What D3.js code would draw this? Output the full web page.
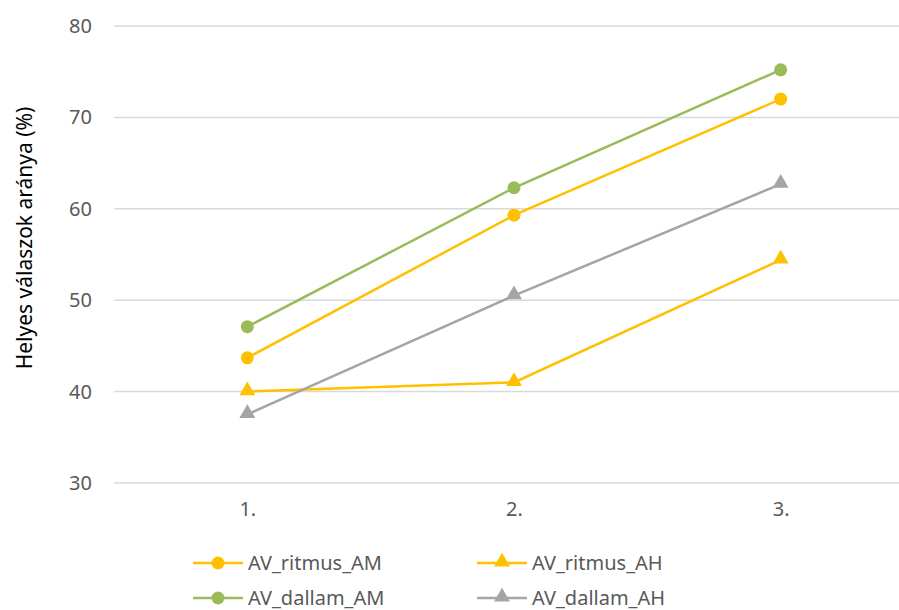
<!DOCTYPE html>
<html>
<head>
<meta charset="utf-8">
<script src="https://cdn.jsdelivr.net/npm/d3@7"></script>
<style>
  body { margin: 0; background: #fff; }
  text { font-family: "Noto Sans", "Open Sans", sans-serif; }
</style>
</head>
<body>
<div id="chart"></div>
<script>
// data
const categories = ['1.', '2.', '3.'];
const ritmusAM = [43.7, 59.3, 72.0];
const ritmusAH = [40.0, 41.0, 54.4];
const dallamAM = [47.1, 62.3, 75.2];
const dallamAH = [37.5, 50.5, 62.7];
const yTicks = [30, 40, 50, 60, 70, 80];
const yTitle = 'Helyes válaszok aránya (%)';

const series = [
  { name: 'AV_ritmus_AM', values: ritmusAM, color: '#FFC000', marker: 'circle' },
  { name: 'AV_ritmus_AH', values: ritmusAH, color: '#FFC000', marker: 'triangle' },
  { name: 'AV_dallam_AM', values: dallamAM, color: '#9BBB59', marker: 'circle' },
  { name: 'AV_dallam_AH', values: dallamAH, color: '#A5A5A5', marker: 'triangle' }
];

const w = 899, h = 610;
const svg = d3.select('#chart').append('svg')
  .attr('width', w).attr('height', h);

// scales
const xScale = d3.scalePoint()
  .domain(categories)
  .range([114, 914])
  .padding(0.5);
const yScale = d3.scaleLinear()
  .domain([30, 80])
  .range([483, 26]);

// gridlines
svg.append('g')
  .selectAll('line')
  .data(yTicks)
  .enter()
  .append('line')
  .attr('x1', 114).attr('x2', 914)
  .attr('y1', d => yScale(d)).attr('y2', d => yScale(d))
  .attr('stroke', '#d9d9d9')
  .attr('stroke-width', 1.5);

// y axis labels
const yAxis = d3.axisLeft(yScale).tickValues(yTicks).tickSize(0).tickPadding(0);
svg.append('g')
  .attr('transform', 'translate(92,0)')
  .call(yAxis)
  .call(g => g.select('.domain').remove())
  .selectAll('text')
  .attr('font-size', 20)
  .attr('font-family', '"Noto Sans", sans-serif')
  .attr('fill', '#595959');

// x axis labels
const xAxis = d3.axisBottom(xScale).tickSize(0).tickPadding(0);
svg.append('g')
  .attr('transform', 'translate(0,502)')
  .call(xAxis)
  .call(g => g.select('.domain').remove())
  .selectAll('text')
  .attr('font-size', 20)
  .attr('font-family', '"Noto Sans", sans-serif')
  .attr('fill', '#595959');

// y title
svg.append('text')
  .attr('transform', 'translate(32,238) rotate(-90)')
  .attr('text-anchor', 'middle')
  .attr('font-size', 21)
  .attr('fill', '#000')
  .text(yTitle);

const line = d3.line()
  .x((d, i) => xScale(categories[i]))
  .y(d => yScale(d));

const triangle = d3.symbol().type(d3.symbolTriangle).size(110);

function drawMarker(g, type, color, x, y) {
  if (type === 'circle') {
    g.append('circle').attr('cx', x).attr('cy', y).attr('r', 6.5).attr('fill', color);
  } else {
    g.append('path').attr('d', triangle())
      .attr('transform', 'translate(' + x + ',' + (y - 1) + ')')
      .attr('fill', color);
  }
}

// lines + markers
series.forEach(s => {
  const g = svg.append('g');
  g.append('path')
    .attr('d', line(s.values))
    .attr('fill', 'none')
    .attr('stroke', s.color)
    .attr('stroke-width', 2.5);
  s.values.forEach((v, i) => drawMarker(g, s.marker, s.color, xScale(categories[i]), yScale(v)));
});

// legend
const legendPos = [[193, 563], [477, 563], [193, 598], [477, 598]];
series.forEach((s, i) => {
  const [lx, ly] = legendPos[i];
  const g = svg.append('g');
  g.append('line')
    .attr('x1', lx).attr('x2', lx + 50)
    .attr('y1', ly).attr('y2', ly)
    .attr('stroke', s.color).attr('stroke-width', 2.5);
  drawMarker(g, s.marker, s.color, lx + 25, ly);
  g.append('text')
    .attr('x', lx + 55).attr('y', ly)
    .attr('dy', '0.35em')
    .attr('font-size', 20)
    .attr('fill', '#595959')
    .text(s.name);
});
</script>
</body>
</html>
